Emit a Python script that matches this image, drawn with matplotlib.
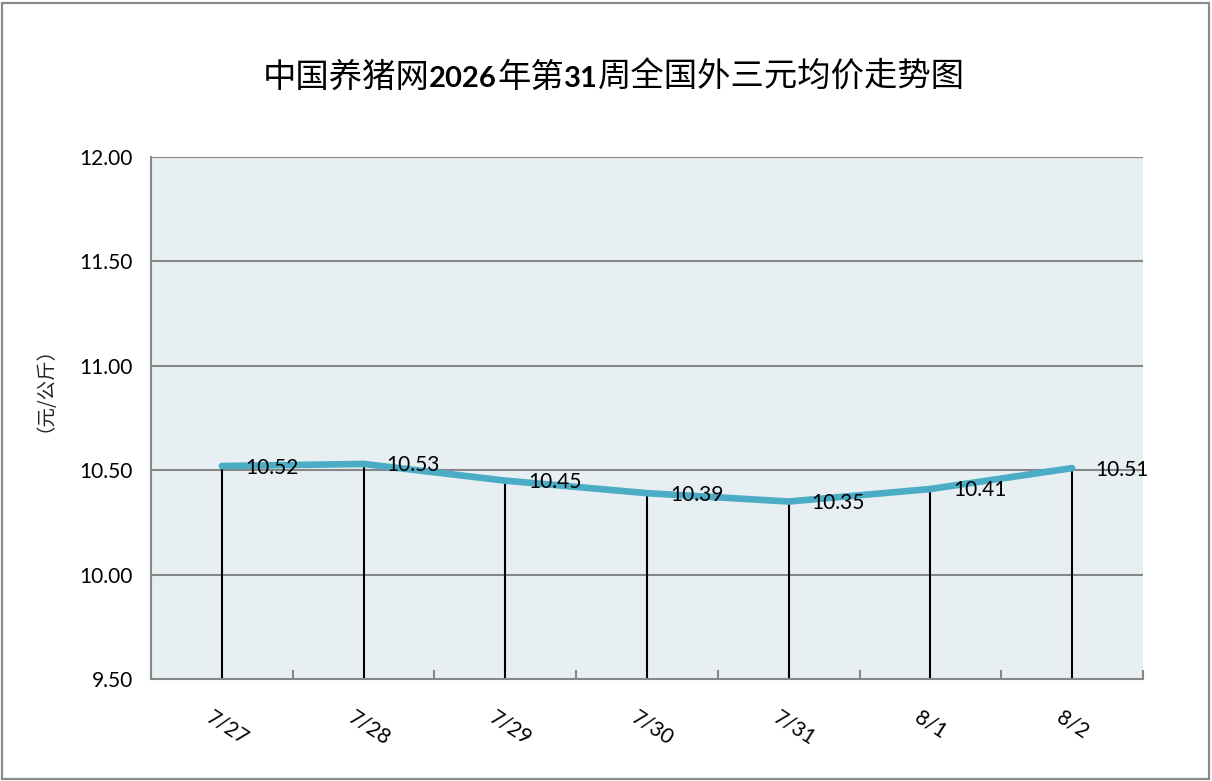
import matplotlib
matplotlib.use("Agg")
import matplotlib.pyplot as plt
import matplotlib.transforms as mtransforms
from matplotlib.patches import Rectangle
import numpy as np

categories = ["7/27", "7/28", "7/29", "7/30", "7/31", "8/1", "8/2"]
prices = [10.52, 10.53, 10.45, 10.39, 10.35, 10.41, 10.51]
yticks = [9.50, 10.00, 10.50, 11.00, 11.50, 12.00]
title_parts = [("中国养猪网", False), ("2026", True), ("年第", False), ("31", True),
               ("周全国外三元均价走势图", False)]
ylabel = "（元/公斤）"

W, H = 1212, 781
DPI = 100
fig = plt.figure(figsize=(W / DPI, H / DPI), dpi=DPI)
fig.patch.set_facecolor("white")

# figure border
fig.patches.append(Rectangle((1.5 / W, 2.5 / H), (W - 5) / W, (H - 5) / H,
                             transform=fig.transFigure, fill=False,
                             edgecolor="#8a8a8a", linewidth=1.6))

ax = fig.add_axes([151 / W, (H - 679) / H, (1143 - 151) / W, (679 - 157) / H])
ax.set_facecolor("#e8eff3")
x = np.arange(len(categories))

ax.set_xlim(-0.5, len(categories) - 0.5)
ax.set_ylim(yticks[0], yticks[-1])

grid_c = "#878787"
for y in yticks[1:]:
    ax.axhline(y, color=grid_c, linewidth=1.5, zorder=1)

# drop lines
ax.vlines(x, yticks[0], prices, color="black", linewidth=1.5, zorder=2)

ax.plot(x, prices, color="#4bacc6", linewidth=4.8, solid_capstyle="round",
        solid_joinstyle="round", zorder=3)

for xi, p in zip(x, prices):
    ax.annotate(f"{p:.2f}", (xi, p), xytext=(23, -7.5), textcoords="offset pixels",
                ha="left", va="baseline", fontsize=15, family="Lato",
                color="black", zorder=4)

for s in ["top", "right"]:
    ax.spines[s].set_visible(False)
for s in ["left", "bottom"]:
    ax.spines[s].set_color(grid_c)
    ax.spines[s].set_linewidth(1.5)

ax.set_yticks(yticks)
ax.set_yticklabels([f"{v:.2f}" for v in yticks], family="Lato", fontsize=15)
ax.tick_params(axis="y", length=0, pad=13)

ax.set_xticks(x)
ax.set_xticks(np.arange(-0.5, len(categories), 1.0), minor=True)
ax.tick_params(axis="x", which="major", length=0, pad=20)
ax.tick_params(axis="x", which="minor", direction="in", length=6.5, width=1.5,
               color=grid_c)
ax.set_xticklabels(categories, family="Lato", fontsize=15, rotation=-33,
                   ha="left", va="top", rotation_mode="anchor")
offset = mtransforms.ScaledTranslation(-8 / DPI, 0, fig.dpi_scale_trans)
for lab in ax.get_xticklabels():
    lab.set_transform(lab.get_transform() + offset)

fig.text(35 / W, 1 - 379 / H, ylabel, rotation=90, ha="center", va="center",
         fontsize=14, family=["Noto Sans CJK SC", "DejaVu Sans"], color="#222222")

# title in pieces
renderer = fig.canvas.get_renderer()
texts = []
for s, bold in title_parts:
    if bold:
        t = fig.text(0, 0, s, fontsize=21, fontweight="bold",
                     family=["Lato", "Noto Sans CJK SC"], va="baseline", ha="left")
    else:
        t = fig.text(0, 0, s, fontsize=24, family=["Noto Sans CJK SC", "DejaVu Sans"],
                     va="baseline", ha="left")
    texts.append(t)
widths = [t.get_window_extent(renderer).width for t in texts]
total = sum(widths)
cx = 613.5
xpos = cx - total / 2
base_y = 1 - 87 / H
for t, w in zip(texts, widths):
    t.set_position((xpos / W, base_y))
    xpos += w

fig.savefig("out.png", dpi=DPI, facecolor="white")
